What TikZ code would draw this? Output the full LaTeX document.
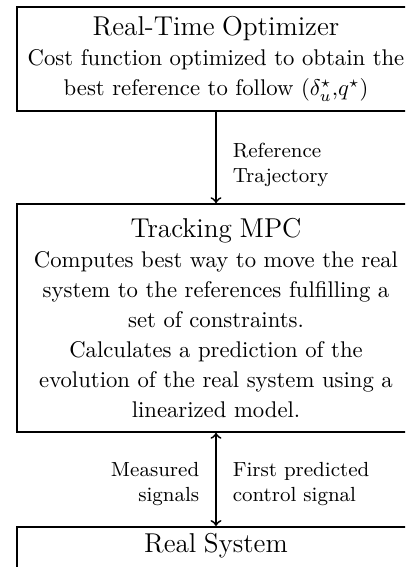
\documentclass[tikz,border=0pt]{standalone}
\newcommand{\blocktitle}[1]{{\fontsize{12}{14}\selectfont #1}}
\begin{document}
\begin{tikzpicture}[x=0.4405pt,y=-0.4405pt,
  block/.style={draw,thick,align=center,text width=171pt,inner xsep=2pt,
    font=\fontsize{10}{13.2}\selectfont},
  sig/.style={font=\small,inner sep=2pt}]
\useasboundingbox (0,0) rectangle (405,567);
\clip (0,0) rectangle (405,567);

\node[block,minimum height=45.8pt] (rto) at (216,59) {\blocktitle{Real-Time Optimizer}\\
  Cost function optimized to obtain the\\
  best reference to follow $(\delta_u^\star{,}q^\star)$};

\node[block,minimum height=100.4pt] (mpc) at (216,318) {\blocktitle{Tracking MPC}\\
  Computes best way to move the real\\
  system to the references fulfilling a\\
  set of constraints.\\
  Calculates a prediction of the\\
  evolution of the real system using a\\
  linearized model.};

\node[block,anchor=north,inner ysep=3pt,text depth=40pt] (sys) at (216,526) {\blocktitle{Real System}};

% \node (ref) at (260,165) {Reference};

\draw[->,thick] (rto) -- node[sig,right=5pt,pos=0.58,align=left] {Reference\\Trajectory} (mpc);
\draw[<->,thick] (mpc) -- node[sig,left=5pt,pos=0.55,align=right] {Measured\\signals}
  node[sig,right=5pt,pos=0.55,align=left] {First predicted\\control signal} (sys);
\end{tikzpicture}
\end{document}
